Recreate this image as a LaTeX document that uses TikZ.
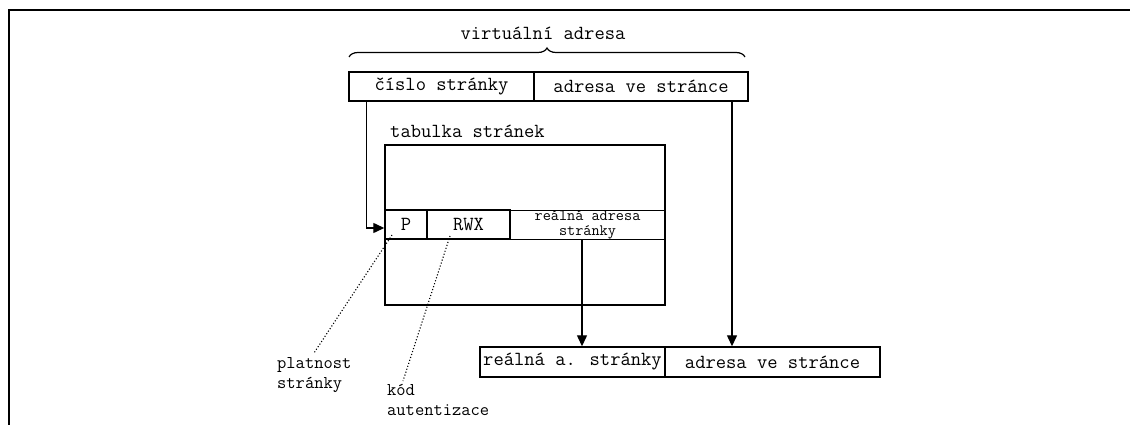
\documentclass[tikz,border=0pt]{standalone}
\usetikzlibrary{arrows.meta,decorations.pathreplacing,calc}
\begin{document}
\begin{tikzpicture}[x=1pt,y=-1pt,
  box/.style={draw,line width=1.4pt,inner sep=0pt,minimum height=29pt,font=\ttfamily\fontsize{20}{22}\selectfont},
  lbl/.style={inner sep=0pt,font=\ttfamily\fontsize{20}{22}\selectfont},
  note/.style={inner sep=0pt,align=left,font=\ttfamily\fontsize{18}{20}\selectfont},
  arr/.style={line width=1.3pt,-{Triangle[length=11pt,width=10pt]}},
  pointer/.style={dotted,line width=1.1pt}]
\useasboundingbox (0,0) rectangle (1130,425);
% frame
\draw[line width=1.5pt] (9,425) -- (9,10) -- (1130,10);
% virtual address
\node[box,minimum width=185pt] (cislo) at (441.5,86.5) {číslo stránky};
\node[box,minimum width=214pt] (adresa) at (641,86.5) {adresa ve stránce};
\coordinate (bl) at (349,57);
\coordinate (br) at (745,57);
\draw[line width=1.2pt,decorate,decoration={brace,amplitude=9pt}] (bl) -- (br);
\node[lbl,anchor=base] (virt) at (543,40) {virtuální adresa};
% page table
\node[lbl,anchor=base west] (tabl) at (390,138) {tabulka stránek};
\node[box,minimum width=280pt,minimum height=160pt] (table) at (525,225) {};
\node[box,minimum width=42pt] (P) at (406,224.5) {P};
\node[box,minimum width=83pt] (RWX) at (468.5,224.5) {RWX};
\node[box,minimum width=155pt,align=center,font=\ttfamily\fontsize{15.8}{15}\selectfont] (real) at (587.5,225) {reálná adresa\\stránky};
% real address
\node[box,minimum width=185pt,minimum height=30pt] (realb) at (572.5,362) {reálná a. stránky};
\node[box,minimum width=215pt,minimum height=30pt] (adrb) at (772.5,362) {adresa ve stránce};
% connectors
\draw[arr] ($(cislo.south west)+(18,0)$) |- ($(P.west)+(0,3.5)$);
\draw[arr] (adresa.south -| 732,0) -- (adrb.north -| 732,0);
\draw[arr] (real.south -| 582,0) -- (realb.north -| 582,0);
% notes
\node[note,anchor=north west] (plat) at (277,357) {platnost\\stránky};
\node[note,anchor=north west] (kod) at (387,384) {kód\\autentizace};
\coordinate (pP) at (392,235);
\coordinate (pR) at (450,236);
\draw[pointer] (pP) -- ($(plat.north west)+(37,-4)$);
\draw[pointer] (pR) -- ($(kod.north west)+(16,-3)$);
\end{tikzpicture}
\end{document}
